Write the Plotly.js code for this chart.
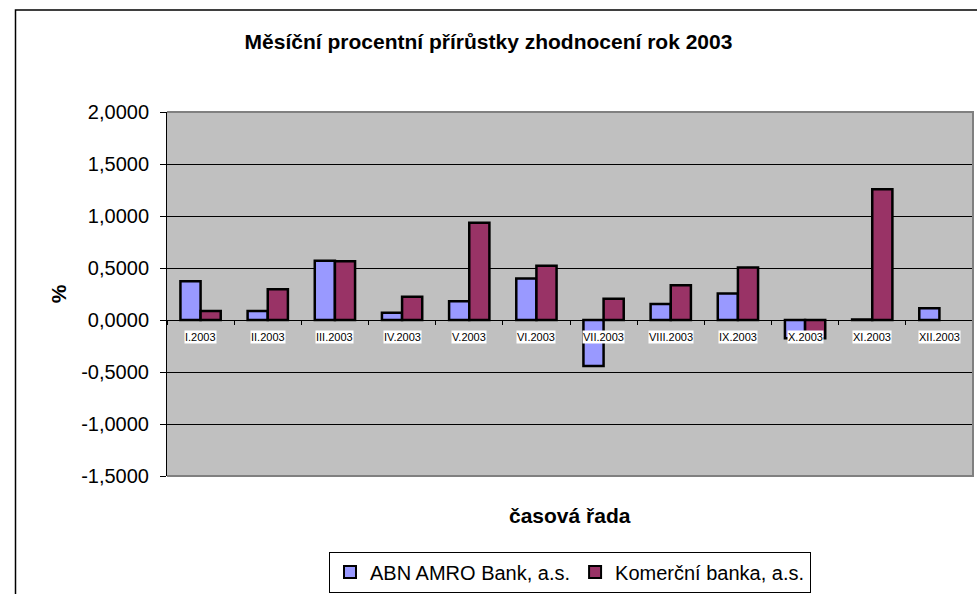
<!DOCTYPE html>
<html>
<head>
<meta charset="utf-8">
<script src="https://cdn.plot.ly/plotly-3.0.1.min.js"></script>
<style>html,body{margin:0;padding:0;background:#fff;}#chart{width:977px;height:594px;}</style>
</head>
<body>
<div id="chart"></div>
<script>
const categories = ["I.2003","II.2003","III.2003","IV.2003","V.2003","VI.2003","VII.2003","VIII.2003","IX.2003","X.2003","XI.2003","XII.2003"];
const abnValues = [0.372, 0.087, 0.570, 0.070, 0.180, 0.400, -0.442, 0.154, 0.256, -0.176, 0.005, 0.112];
const kbValues  = [0.087, 0.295, 0.564, 0.224, 0.936, 0.522, 0.205, 0.333, 0.506, -0.176, 1.257, null];
const seriesNames = ["ABN AMRO Bank, a.s.", "Komerční banka, a.s."];
const yTicks = [-1.5, -1.0, -0.5, 0, 0.5, 1.0, 1.5, 2.0];
const yTickLabels = yTicks.map(v => v.toFixed(4).replace(".", ","));

const FONT = "Liberation Sans, Arial, sans-serif";
const lineStyle = {color: "#000000", width: 2.5};

const traces = [
  {type: "bar", name: seriesNames[0], x: categories, y: abnValues,
   marker: {color: "#9999FF", line: lineStyle}, hoverinfo: "x+y"},
  {type: "bar", name: seriesNames[1], x: categories, y: kbValues,
   marker: {color: "#993366", line: lineStyle}, hoverinfo: "x+y"}
];

const catAnnotations = categories.map(c => ({
  x: c, xref: "x", y: (476-337)/364, yref: "paper",
  text: c, showarrow: false, bgcolor: "#FFFFFF", borderpad: 0,
  font: {family: FONT, size: 11, color: "#000"}, xanchor: "center", yanchor: "middle"
}));

const layout = {
  width: 977, height: 594,
  margin: {l: 167, r: 4, t: 112, b: 118, autoexpand: false},
  paper_bgcolor: "#FFFFFF",
  plot_bgcolor: "#C0C0C0",
  font: {family: FONT, size: 21, color: "#000"},
  showlegend: true,
  title: {text: "<b>Měsíční procentní přírůstky zhodnocení rok 2003</b>",
          font: {family: FONT, size: 21, color: "#000"},
          x: 0.5, xref: "container", xanchor: "center",
          y: 1 - 42/594, yref: "container", yanchor: "middle"},
  barmode: "group",
  bargap: 0.4,
  bargroupgap: 0,
  xaxis: {
    type: "category",
    anchor: "free", position: (476-320)/364,
    showline: true, linecolor: "#000", linewidth: 1,
    ticks: "outside", tickson: "boundaries", ticklen: 4, tickcolor: "#000",
    showticklabels: false, showgrid: false, zeroline: false, fixedrange: true
  },
  yaxis: {
    range: [-1.5, 2.0], tickmode: "array", tickvals: yTicks, ticktext: yTickLabels,
    showline: true, linecolor: "#000", linewidth: 1,
    ticks: "outside", ticklen: 6, tickcolor: "#000", ticklabelstandoff: 7,
    showgrid: true, gridcolor: "#000", gridwidth: 1,
    zeroline: false, automargin: false,
    tickfont: {family: FONT, size: 20, color: "#000"},
    title: {text: "<b>%</b>", font: {family: FONT, size: 21, color: "#000"}, standoff: 8},
    fixedrange: true
  },
  legend: {
    orientation: "h", x: 0.5, xanchor: "center",
    y: 1 - 572/594, yref: "container", yanchor: "middle",
    bordercolor: "#000", borderwidth: 1, bgcolor: "#FFFFFF",
    font: {family: FONT, size: 20, color: "#000"},
    itemsizing: "constant", itemwidth: 30, tracegroupgap: 0
  },
  annotations: catAnnotations.concat([
    {x: 0.5, xref: "paper", y: (476-515)/364, yref: "paper", showarrow: false,
     text: "<b>časová řada</b>", font: {family: FONT, size: 21, color: "#000"},
     xanchor: "center", yanchor: "middle"}
  ]),
  shapes: [
    {type: "path", xref: "paper", yref: "paper", path: "M0,1 L1,1 L1,0 L0,0",
     line: {color: "#808080", width: 2}, layer: "above"},
    {type: "path", xref: "paper", yref: "paper",
     path: "M" + ((15.5-167)/806) + ",-0.5 L" + ((15.5-167)/806) + "," + ((476-10)/364) + " L1.2," + ((476-10)/364),
     line: {color: "#000", width: 1.5}, layer: "above"}
  ]
};

Plotly.newPlot("chart", traces, layout, {displayModeBar: false, staticPlot: true});
</script>
</body>
</html>
